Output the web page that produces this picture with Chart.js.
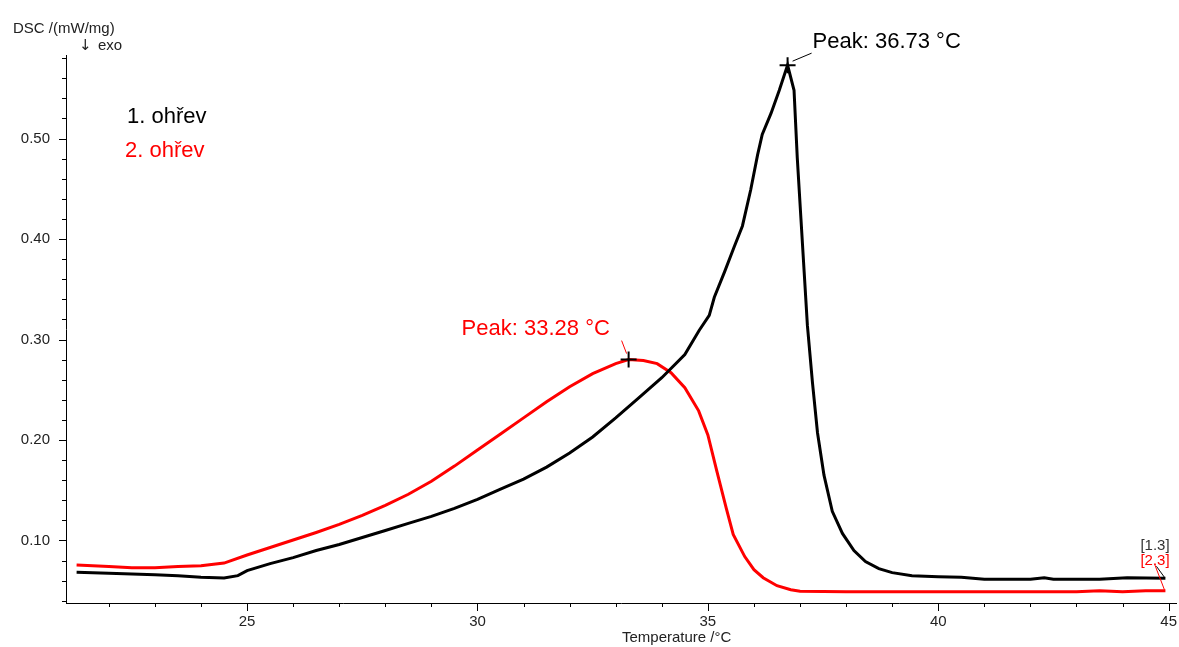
<!DOCTYPE html>
<html>
<head>
<meta charset="utf-8">
<script src="https://cdn.jsdelivr.net/npm/chart.js@4.4.1/dist/chart.umd.min.js"></script>
<style>
  html, body { margin: 0; padding: 0; background: #fff; }
  #wrap { width: 1179px; height: 647px; position: relative; }
</style>
</head>
<body>
<div id="wrap"><canvas id="c" width="1179" height="647"></canvas></div>
<script>
// ---------- data ----------
const seriesNames = ['1. ohřev', '2. ohřev'];
const seriesColors = ['#000000', '#ff0000'];

const t1 = [21.3, 22.0, 22.5, 23.0, 23.5, 24.0, 24.5, 24.8, 25.0, 25.5, 26.0, 26.5, 27.0, 27.5, 28.0, 28.5, 29.0, 29.5, 30.0, 30.5, 31.0, 31.5, 32.0, 32.5, 33.0, 33.5, 34.0, 34.5, 34.81, 35.03, 35.14, 35.36, 35.57, 35.75, 35.93, 36.08, 36.18, 36.37, 36.55, 36.73, 36.87, 36.94, 37.02, 37.09, 37.16, 37.27, 37.38, 37.52, 37.70, 37.92, 38.17, 38.42, 38.71, 39.0, 39.43, 40.0, 40.5, 41.0, 42.0, 42.3, 42.5, 43.5, 44.1, 44.93];
const dsc1 = [0.0685, 0.0675, 0.0667, 0.0660, 0.0650, 0.0635, 0.0627, 0.0650, 0.0700, 0.0770, 0.0830, 0.0900, 0.0960, 0.1030, 0.1100, 0.1170, 0.1240, 0.1320, 0.1410, 0.1510, 0.1610, 0.1730, 0.1870, 0.2030, 0.2220, 0.2420, 0.2620, 0.2850, 0.3090, 0.3240, 0.3420, 0.3670, 0.3920, 0.4130, 0.4490, 0.4840, 0.5040, 0.5250, 0.5480, 0.5730, 0.5480, 0.4810, 0.4200, 0.3670, 0.3140, 0.2570, 0.2070, 0.1650, 0.1290, 0.1070, 0.0900, 0.0790, 0.0720, 0.0680, 0.0650, 0.0640, 0.0635, 0.0615, 0.0615, 0.0630, 0.0615, 0.0615, 0.0630, 0.0624];

const t2 = [21.3, 22.0, 22.5, 23.0, 23.5, 24.0, 24.5, 25.0, 25.5, 26.0, 26.5, 27.0, 27.5, 28.0, 28.5, 29.0, 29.5, 30.0, 30.5, 31.0, 31.5, 32.0, 32.5, 33.0, 33.28, 33.6, 33.9, 34.2, 34.5, 34.8, 35.0, 35.2, 35.4, 35.55, 35.8, 36.0, 36.2, 36.5, 36.8, 37.0, 38.0, 39.0, 40.0, 41.0, 42.0, 43.0, 43.5, 44.0, 44.5, 44.93];
const dsc2 = [0.0756, 0.0742, 0.0728, 0.0730, 0.0740, 0.0748, 0.0775, 0.0856, 0.0930, 0.1005, 0.1080, 0.1160, 0.1250, 0.1350, 0.1460, 0.1590, 0.1740, 0.1900, 0.2060, 0.2220, 0.2380, 0.2530, 0.2660, 0.2760, 0.2800, 0.2790, 0.2760, 0.2670, 0.2520, 0.2290, 0.2050, 0.1680, 0.1320, 0.1060, 0.0840, 0.0710, 0.0630, 0.0550, 0.0510, 0.0495, 0.0490, 0.0490, 0.0490, 0.0490, 0.0490, 0.0490, 0.0500, 0.0490, 0.0500, 0.0500];

const peakTemps = [36.73, 33.28];
const peakValues = [0.573, 0.280];
const peakLabels = ['Peak: 36.73 °C', 'Peak: 33.28 °C'];
const endLabels = ['[1.3]', '[2.3]'];

const xMajorTicks = [25, 30, 35, 40, 45];
const yMajorTicks = ['0.10', '0.20', '0.30', '0.40', '0.50'];
const xRange = [21.07, 45.17];
const yRange = [0.0378, 0.5831];
const xMinorStep = 1;
const yMinorStep = 0.02;

const yTitle = 'DSC /(mW/mg)';
const exoLabel = 'exo';
const xTitle = 'Temperature /°C';

// ---------- chart ----------
const FONT = "'Liberation Sans', Arial, Helvetica, sans-serif";

function pairs(xs, ys) { return xs.map((x, i) => ({x: x, y: ys[i]})); }

function stepTicks(min, max, step) {
  const out = [];
  const start = Math.ceil(min / step - 1e-9);
  const end = Math.floor(max / step + 1e-9);
  for (let k = start; k <= end; k++) out.push({value: +(k * step).toFixed(6)});
  return out;
}

const decor = {
  id: 'decor',
  afterDraw(chart) {
    const ctx = chart.ctx;
    const xs = chart.scales.x, ys = chart.scales.y;
    const area = chart.chartArea;
    ctx.save();
    // tick marks
    ctx.strokeStyle = '#000';
    ctx.lineWidth = 1;
    xs.ticks.forEach(t => {
      const px = Math.round(xs.getPixelForValue(t.value)) + 0.5;
      const major = xMajorTicks.some(v => Math.abs(v - t.value) < 1e-6);
      ctx.beginPath();
      ctx.moveTo(px, area.bottom);
      ctx.lineTo(px, area.bottom + (major ? 8 : 4));
      ctx.stroke();
    });
    ys.ticks.forEach(t => {
      const py = Math.round(ys.getPixelForValue(t.value)) + 0.5;
      const major = yMajorTicks.some(v => Math.abs(parseFloat(v) - t.value) < 1e-6);
      ctx.beginPath();
      ctx.moveTo(area.left, py);
      ctx.lineTo(area.left - (major ? 7 : 4), py);
      ctx.stroke();
    });

    // titles
    ctx.fillStyle = '#222';
    ctx.font = '15px ' + FONT;
    ctx.textBaseline = 'alphabetic';
    ctx.textAlign = 'left';
    ctx.fillText(yTitle, 13, 33);
    ctx.font = "15px 'DejaVu Sans', " + FONT;
    ctx.fillText('↓', 79, 50);
    ctx.font = '15px ' + FONT;
    ctx.fillText(exoLabel, 98, 50);
    ctx.fillText(xTitle, 622, 642);

    // legend text
    ctx.font = '22px ' + FONT;
    ctx.fillStyle = seriesColors[0];
    ctx.fillText(seriesNames[0], 127, 123);
    ctx.fillStyle = seriesColors[1];
    ctx.fillText(seriesNames[1], 125, 157);

    // peak markers and labels
    const p1x = xs.getPixelForValue(peakTemps[0]), p1y = ys.getPixelForValue(peakValues[0]);
    const p2x = xs.getPixelForValue(peakTemps[1]), p2y = ys.getPixelForValue(peakValues[1]);
    // leader lines
    ctx.lineWidth = 1;
    ctx.strokeStyle = '#000';
    ctx.beginPath(); ctx.moveTo(p1x + 5, p1y - 4); ctx.lineTo(p1x + 24, p1y - 12); ctx.stroke();
    ctx.strokeStyle = '#ff0000';
    ctx.beginPath(); ctx.moveTo(p2x - 2, p2y - 6); ctx.lineTo(p2x - 7, p2y - 19); ctx.stroke();
    // crosses
    ctx.strokeStyle = '#000';
    ctx.lineWidth = 2;
    [[p1x, p1y], [p2x, p2y]].forEach(([x, y]) => {
      ctx.beginPath();
      ctx.moveTo(x - 8, y); ctx.lineTo(x + 8, y);
      ctx.moveTo(x, y - 8); ctx.lineTo(x, y + 8);
      ctx.stroke();
    });
    ctx.font = '22px ' + FONT;
    ctx.fillStyle = '#000';
    ctx.fillText(peakLabels[0], p1x + 25, p1y - 17);
    ctx.fillStyle = '#ff0000';
    ctx.fillText(peakLabels[1], p2x - 167, p2y - 25);

    // end labels
    const e1x = xs.getPixelForValue(t1[t1.length - 1]), e1y = ys.getPixelForValue(dsc1[dsc1.length - 1]);
    const e2x = xs.getPixelForValue(t2[t2.length - 1]), e2y = ys.getPixelForValue(dsc2[dsc2.length - 1]);
    ctx.lineWidth = 1;
    ctx.strokeStyle = '#000';
    ctx.beginPath(); ctx.moveTo(e1x - 1, e1y - 1); ctx.lineTo(e1x - 9, e1y - 12); ctx.stroke();
    ctx.strokeStyle = '#ff0000';
    ctx.beginPath(); ctx.moveTo(e2x - 1, e2y - 1); ctx.lineTo(e2x - 11, e2y - 27); ctx.stroke();
    ctx.font = '15px ' + FONT;
    ctx.fillStyle = '#333';
    ctx.fillText(endLabels[0], e1x - 25, e1y - 28);
    ctx.fillStyle = '#ff0000';
    ctx.fillText(endLabels[1], e2x - 25, e2y - 26);
    ctx.restore();
  }
};

new Chart(document.getElementById('c'), {
  type: 'line',
  data: {
    datasets: [
      { label: seriesNames[0], data: pairs(t1, dsc1), borderColor: seriesColors[0], borderWidth: 3, pointRadius: 0, tension: 0, fill: false },
      { label: seriesNames[1], data: pairs(t2, dsc2), borderColor: seriesColors[1], borderWidth: 3, pointRadius: 0, tension: 0, fill: false }
    ]
  },
  options: {
    responsive: false,
    animation: false,
    devicePixelRatio: 1,
    layout: { padding: { top: 55, right: 1, left: 0, bottom: 0 } },
    plugins: { legend: { display: false }, tooltip: { enabled: false } },
    scales: {
      x: {
        type: 'linear',
        min: xRange[0], max: xRange[1],
        afterFit: s => { s.height = 44; },
        afterBuildTicks: s => { s.ticks = stepTicks(xRange[0], xRange[1], xMinorStep); },
        grid: { drawOnChartArea: false, drawTicks: true, tickLength: 8, tickColor: 'rgba(0,0,0,0)' },
        border: { display: true, color: '#000', width: 1 },
        ticks: {
          autoSkip: false, maxRotation: 0, minRotation: 0, padding: 2,
          color: '#222', font: { family: FONT, size: 15 },
          callback: v => xMajorTicks.some(m => Math.abs(m - v) < 1e-6) ? String(Math.round(v)) : ''
        }
      },
      y: {
        type: 'linear',
        min: yRange[0], max: yRange[1],
        afterFit: s => { s.width = 66; },
        afterBuildTicks: s => { s.ticks = stepTicks(yRange[0], yRange[1], yMinorStep); },
        grid: { drawOnChartArea: false, drawTicks: true, tickLength: 8, tickColor: 'rgba(0,0,0,0)' },
        border: { display: true, color: '#000', width: 1 },
        ticks: {
          autoSkip: false, padding: 8,
          color: '#222', font: { family: FONT, size: 15 },
          callback: v => { const m = yMajorTicks.find(l => Math.abs(parseFloat(l) - v) < 1e-6); return m ? m : ''; }
        }
      }
    }
  },
  plugins: [decor]
});
</script>
</body>
</html>
